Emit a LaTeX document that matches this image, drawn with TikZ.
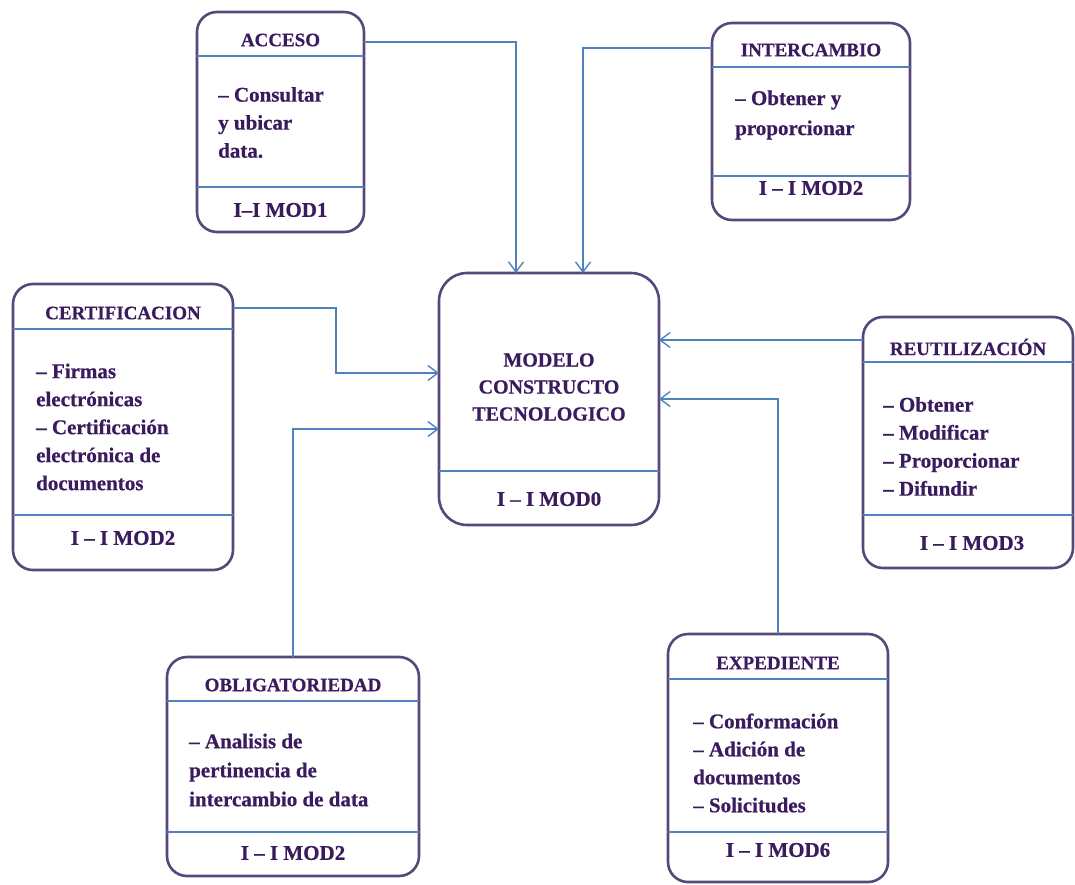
\documentclass[tikz,border=0pt]{standalone}
\usepackage{fontspec}
\setmainfont{Liberation Serif}[BoldFont={Liberation Serif Bold},BoldFeatures={FakeBold=0.6}]
\usetikzlibrary{arrows.meta,calc}
\definecolor{boxline}{HTML}{58477A}
\definecolor{ink}{HTML}{3A1C5E}
\definecolor{wire}{HTML}{4F81BD}
\begin{document}
\begin{tikzpicture}[x=1pt,y=-1pt,
  card/.style={draw=boxline,line width=2.6pt,rounded corners=20pt,inner sep=0pt,outer sep=0pt,anchor=north west},
  rule/.style={draw=wire,line width=1.4pt},
  title/.style={text=ink,font=\fontsize{19}{22}\selectfont\bfseries,inner sep=0pt},
  body/.style={text=ink,font=\fontsize{21}{28}\selectfont\bfseries,align=left,anchor=west,inner sep=0pt},
  foot/.style={text=ink,font=\fontsize{21}{24}\selectfont\bfseries,inner sep=0pt},
  conn/.style={draw=wire,line width=1.4pt,-{Straight Barb[length=10pt,width=15pt,line width=1.4pt]}}
]
\path[use as bounding box] (0,0) rectangle (1075,884);

% ---- boxes ----
\node[card,minimum width=167pt,minimum height=220pt] (acc) at (197,12) {};
\node[card,minimum width=198pt,minimum height=197pt] (int) at (712,23) {};
\node[card,minimum width=220pt,minimum height=286pt] (cer) at (13,284) {};
\node[card,minimum width=220pt,minimum height=252pt,rounded corners=28pt] (mod) at (439,273) {};
\node[card,minimum width=210pt,minimum height=251pt] (reu) at (863,317) {};
\node[card,minimum width=252pt,minimum height=219pt] (obl) at (167,657) {};
\node[card,minimum width=220pt,minimum height=248pt] (exp) at (668,634) {};

% ---- compartment rules ----
\draw[rule] ($(acc.north west)+(0,44)$) -- ($(acc.north east)+(0,44)$);
\draw[rule] ($(acc.north west)+(0,175)$) -- ($(acc.north east)+(0,175)$);
\draw[rule] ($(int.north west)+(0,44)$) -- ($(int.north east)+(0,44)$);
\draw[rule] ($(int.north west)+(0,153)$) -- ($(int.north east)+(0,153)$);
\draw[rule] ($(cer.north west)+(0,45)$) -- ($(cer.north east)+(0,45)$);
\draw[rule] ($(cer.north west)+(0,231)$) -- ($(cer.north east)+(0,231)$);
\draw[rule] ($(mod.north west)+(0,198)$) -- ($(mod.north east)+(0,198)$);
\draw[rule] ($(reu.north west)+(0,45)$) -- ($(reu.north east)+(0,45)$);
\draw[rule] ($(reu.north west)+(0,198)$) -- ($(reu.north east)+(0,198)$);
\draw[rule] ($(obl.north west)+(0,44)$) -- ($(obl.north east)+(0,44)$);
\draw[rule] ($(obl.north west)+(0,175)$) -- ($(obl.north east)+(0,175)$);
\draw[rule] ($(exp.north west)+(0,45)$) -- ($(exp.north east)+(0,45)$);
\draw[rule] ($(exp.north west)+(0,198)$) -- ($(exp.north east)+(0,198)$);

% ---- texts ----
\node[title] (accT) at ($(acc.north)+(0,28)$) {ACCESO};
\node[body] (accB) at ($(acc.north west)+(21,110.5)$) {– Consultar\\y ubicar\\data.};
\node[foot] (accF) at ($(acc.north)+(0,198)$) {I–I MOD1};

\node[title] (intT) at ($(int.north)+(0,27)$) {INTERCAMBIO};
\node[body,font=\fontsize{21}{30}\selectfont\bfseries] (intB) at ($(int.north west)+(23,92)$) {– Obtener y\\proporcionar};
\node[foot] (intF) at ($(int.north)+(0,165)$) {I – I MOD2};

\node[title] (cerT) at ($(cer.north)+(0,29)$) {CERTIFICACION};
\node[body] (cerB) at ($(cer.north west)+(23,143)$) {– Firmas\\electrónicas\\– Certificación\\electrónica de\\documentos};
\node[foot] (cerF) at ($(cer.north)+(0,254)$) {I – I MOD2};

\node[text=ink,font=\fontsize{20}{27}\selectfont\bfseries,align=center,inner sep=0pt] (modT) at ($(mod.north)+(0,114)$) {MODELO\\CONSTRUCTO\\TECNOLOGICO};
\node[foot] (modF) at ($(mod.north)+(0,226)$) {I – I MOD0};

\node[title] (reuT) at ($(reu.north)+(0,30)$) {REUTILIZACIÓN};
\node[body] (reuB) at ($(reu.north west)+(20,129.5)$) {– Obtener\\– Modificar\\– Proporcionar\\– Difundir};
\node[foot] (reuF) at ($(reu.north)+(4,226)$) {I – I MOD3};

\node[title] (oblT) at ($(obl.north)+(0,28)$) {OBLIGATORIEDAD};
\node[body,font=\fontsize{21}{29}\selectfont\bfseries] (oblB) at ($(obl.north west)+(22,113)$) {– Analisis de\\pertinencia de\\intercambio de data};
\node[foot] (oblF) at ($(obl.north)+(0,196)$) {I – I MOD2};

\node[title] (expT) at ($(exp.north)+(0,29)$) {EXPEDIENTE};
\node[body] (expB) at ($(exp.north west)+(25,129)$) {– Conformación\\– Adición de\\documentos\\– Solicitudes};
\node[foot] (expF) at ($(exp.north)+(0,216)$) {I – I MOD6};

% ---- connectors into the central model ----
\draw[conn] ($(acc.north east)+(0,30)$) -| ($(mod.north west)+(77,0)$);
\draw[conn] ($(int.north west)+(0,25)$) -| ($(mod.north west)+(144,0)$);
\draw[conn] ($(cer.north east)+(0,24)$) -| ($(mod.north west)+(-103,100)$) -- ($(mod.north west)+(0,100)$);
\draw[conn] (obl.north) |- ($(mod.north west)+(0,156)$);
\draw[conn] ($(reu.north west)+(0,23)$) -- ($(mod.north east)+(0,67)$);
\draw[conn] (exp.north) |- ($(mod.north east)+(0,126)$);
\end{tikzpicture}
\end{document}
